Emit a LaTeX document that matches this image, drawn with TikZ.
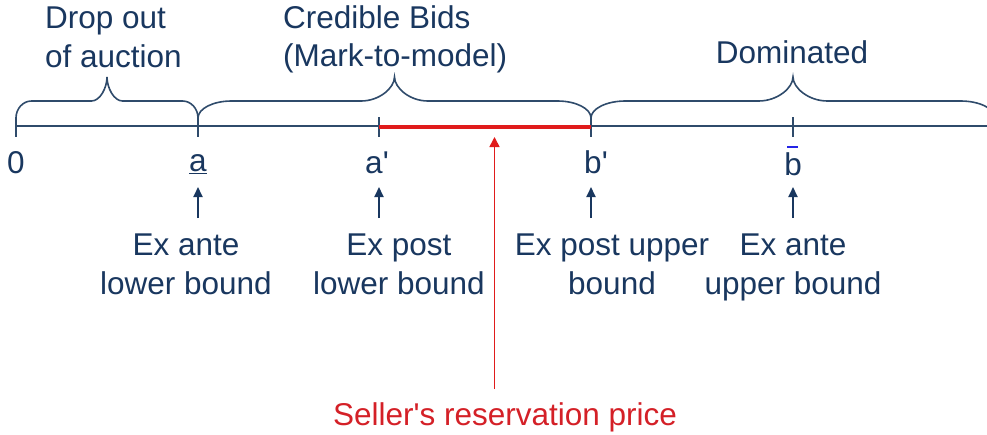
\documentclass[tikz,border=0pt]{standalone}
\usepackage{fontspec}
\setmainfont{Liberation Sans}
\usetikzlibrary{arrows.meta}
\definecolor{navy}{HTML}{19375F}
\definecolor{axisc}{HTML}{2F4B6B}
\definecolor{redc}{HTML}{E01B1B}
\definecolor{redt}{HTML}{D42027}
\definecolor{barblue}{HTML}{2424E6}
\tikzset{
  lab/.style={font=\fontsize{31.5}{39}\selectfont, text=navy, inner sep=0pt},
  bracestyle/.style={draw=axisc, line width=1.6pt},
  axisline/.style={draw=axisc, line width=1.8pt},
  tickmark/.style={draw=axisc, line width=1.6pt},
  uparrow/.style={draw=navy, line width=1.8pt, -{Triangle[width=9pt,length=10pt]}},
  redarrow/.style={draw=redc, line width=1.6pt, -{Triangle[width=10pt,length=10pt]}},
  redseg/.style={draw=redc, line width=4pt}
}
\newcommand\mybrace[2]{%
  \pgfmathsetmacro\bxa{#1}%
  \pgfmathsetmacro\bxb{#2}%
  \pgfmathsetmacro\bxm{(#1+#2)/2}%
  \pgfmathsetmacro\bxr{0.085*(#2-#1)}%
  \draw[bracestyle] (\bxa,118) .. controls (\bxa,{118-0.55*17}) and ({\bxa+0.45*\bxr},101) .. ({\bxa+\bxr},101)
   -- ({\bxm-\bxr},101) .. controls ({\bxm-0.45*\bxr},101) and (\bxm,{101-0.55*24}) .. (\bxm,77)
   .. controls (\bxm,{101-0.55*24}) and ({\bxm+0.45*\bxr},101) .. ({\bxm+\bxr},101)
   -- ({\bxb-\bxr},101) .. controls ({\bxb-0.45*\bxr},101) and (\bxb,{118-0.55*17}) .. (\bxb,118);%
}
\begin{document}
\begin{tikzpicture}[x=1pt,y=-1pt]
\useasboundingbox (0,0) rectangle (987,434);
\clip (0,0) rectangle (987,434);

% axis
\coordinate (axL) at (16,126);
\coordinate (axR) at (990,126);
\draw[axisline] (axL) -- (axR);
\foreach \x in {16,198,379,591,793} \draw[tickmark] (\x,117) -- (\x,137);

% red segment
\coordinate (ra) at (379,126.5);
\coordinate (rb) at (591,126.5);
\draw[redseg] (ra) -- (rb);

% braces
\mybrace{16}{198}
\mybrace{198}{591}
\mybrace{591}{995}

% top labels
\node[lab,anchor=base west] (drop1) at (45,28) {Drop out};
\node[lab,anchor=base west] (drop2) at (45,67) {of auction};
\node[lab,anchor=base west] (cred1) at (283,28) {Credible Bids};
\node[lab,anchor=base west] (cred2) at (283,66) {(Mark-to-model)};
\node[lab,anchor=base] (dom) at (792,63) {Dominated};

% tick labels
\node[lab,anchor=base] (t0) at (16,173) {0};
\node[lab,anchor=base] (ta) at (198,171) {\underline{a}};
\node[lab,anchor=base] (tap) at (377,173) {a\textquotesingle};
\node[lab,anchor=base] (tbp) at (596,173) {b\textquotesingle};
\node[lab,anchor=base] (tb) at (793,175) {b};
\coordinate (barL) at (787,147);
\coordinate (barR) at (798,147);
\draw[barblue, line width=2.2pt] (barL) -- (barR);

% small arrows
\foreach \x/\n in {198/1,379/2,591/3,793/4}{
  \coordinate (s\n) at (\x,218);
  \coordinate (e\n) at (\x,187);
  \draw[uparrow] (s\n) -- (e\n);
}

% bottom labels
\node[lab,anchor=base] (la1) at (186,255) {Ex ante};
\node[lab,anchor=base] (la2) at (186,294) {lower bound};
\node[lab,anchor=base] (lp1) at (399,255) {Ex post};
\node[lab,anchor=base] (lp2) at (399,294) {lower bound};
\node[lab,anchor=base] (up1) at (612,255) {Ex post upper};
\node[lab,anchor=base] (up2) at (612,294) {bound};
\node[lab,anchor=base] (ua1) at (793,255) {Ex ante};
\node[lab,anchor=base] (ua2) at (793,294) {upper bound};

% seller
\node[lab,anchor=base,text=redt] (sel) at (505,425) {Seller\textquotesingle s reservation price};
\coordinate (rs) at (494.5,389);
\coordinate (re) at (494.5,137);
\draw[redarrow] (rs) -- (re);
\end{tikzpicture}
\end{document}
